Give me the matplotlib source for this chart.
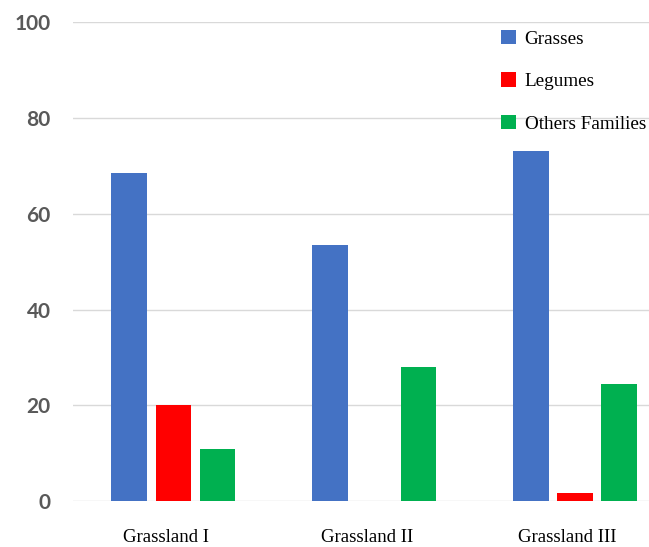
import numpy as np
import matplotlib
matplotlib.use("Agg")
import matplotlib.pyplot as plt

# dane
grasslands = ["Grassland I", "Grassland II", "Grassland III"]
grasses = [68.5, 53.5, 73.0]
legumes = [20.0, 0.0, 1.8]
others = [11.0, 28.1, 24.5]
series_names = ["Grasses", "Legumes", "Others Families"]
colors = ["#4472C4", "#FF0000", "#00B050"]

fig = plt.figure(figsize=(6.49, 5.47), dpi=100)
ax = fig.add_axes([73 / 649, 45.7 / 547, 1 - 73 / 649, 479.3 / 547])

x = np.arange(len(grasslands))
step = 0.22
width = 0.177
bars = []
for i, (vals, col) in enumerate(zip([grasses, legumes, others], colors)):
    b = ax.bar(x + (i - 1) * step, vals, width, color=col, zorder=3)
    bars.append(b)

ax.set_xlim(-0.5, 2.369)
ax.set_ylim(0, 100)
ax.set_yticks([0, 20, 40, 60, 80, 100])
ax.yaxis.grid(True, color="#d9d9d9", linewidth=1.0, zorder=0)
ax.set_axisbelow(True)
for s in ax.spines.values():
    s.set_visible(False)

ax.tick_params(axis="y", length=0, pad=16, labelcolor="#595959")
for lab in ax.get_yticklabels():
    lab.set_fontfamily("Lato")
    lab.set_fontweight("bold")
    lab.set_fontsize(15)

ax.set_xticks(x - 0.036)
ax.set_xticklabels(grasslands, fontfamily="Liberation Serif", fontsize=13.5)
ax.tick_params(axis="x", length=0, pad=20)

ax.legend(bars, series_names, loc="upper left",
          bbox_to_anchor=(501 / 649, 1 - 30 / 547), bbox_transform=fig.transFigure,
          frameon=False, borderpad=0, borderaxespad=0,
          handlelength=0.78, handleheight=0.78, handletextpad=0.45,
          labelspacing=1.28, prop={"family": "Liberation Serif", "size": 13.8})

fig.savefig("out.png", dpi=100)
